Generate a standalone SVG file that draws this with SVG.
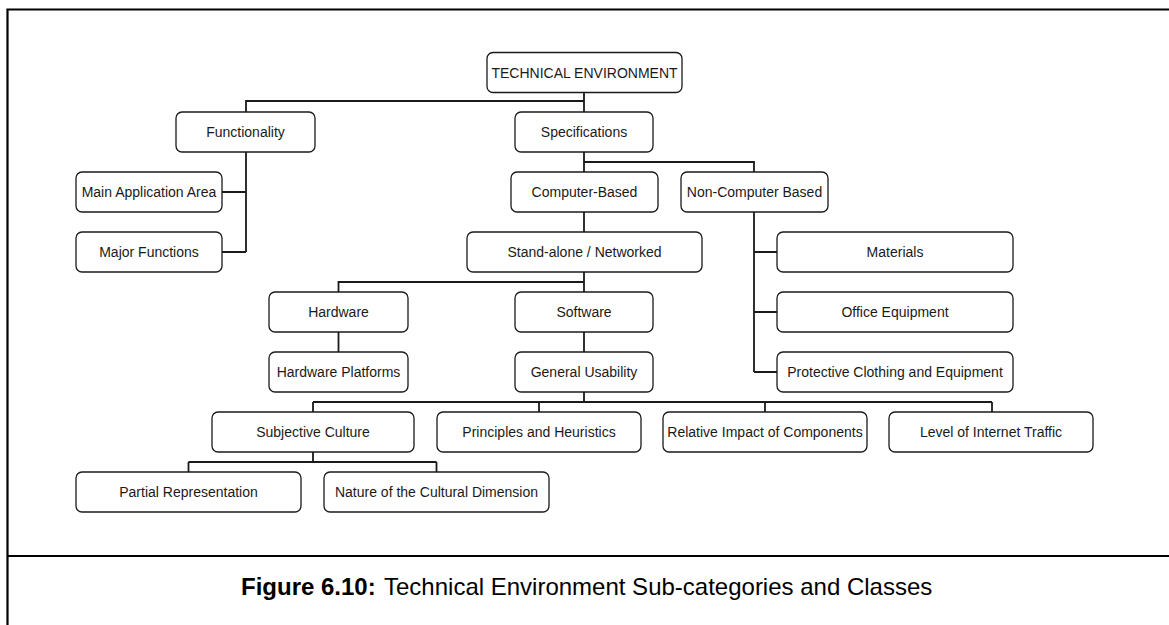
<svg xmlns="http://www.w3.org/2000/svg" width="1169" height="625" viewBox="0 0 1169 625">
<style>
.node rect{fill:#fff;stroke:#1a1a1a;stroke-width:1.3}
.node text{font-family:"Liberation Sans",Arial,sans-serif;font-size:14px;fill:#1a1a1a;text-anchor:middle}
.conn path{fill:none;stroke:#1a1a1a;stroke-width:1.8}
.frame{fill:none;stroke:#000;stroke-width:2.2}
.caption{font-family:"Liberation Sans",Arial,sans-serif;font-size:24px;fill:#000}
</style>
<rect width="1169" height="625" fill="#fff"/>
<g id="frame">
<path class="frame" d="M7.5,625 V9.5 H1169"/>
<path class="frame" d="M7.5,556 H1169"/>
</g>
<g id="connectors" class="conn">
<path d="M584,92 V112 M584,101 H246 V112"/>
<path d="M246,152 V252 M246,192 H222 M246,252 H222"/>
<path d="M584,152 V172 M584,162 H754 V172"/>
<path d="M584,212 V232"/>
<path d="M754,212 V372 M754,252 H777 M754,312 H777 M754,372 H777"/>
<path d="M584,272 V292 M584,282 H338.5 V292"/>
<path d="M338.5,332 V352"/>
<path d="M584,332 V352"/>
<path d="M584,392 V402 M313,402 H992 M313,402 V412 M539,402 V412 M765,402 V412 M992,402 V412"/>
<path d="M313,452 V462 M188.5,462 H436.5 M188.5,462 V472 M436.5,462 V472"/>
</g>
<g id="n-technical" class="node"><rect x="487" y="52.5" width="195" height="40" rx="6"/><text x="584.5" y="77.5">TECHNICAL ENVIRONMENT</text></g>
<g id="n-functionality" class="node"><rect x="176" y="112" width="139" height="40" rx="6"/><text x="245.5" y="137">Functionality</text></g>
<g id="n-specifications" class="node"><rect x="515" y="112" width="138" height="40" rx="6"/><text x="584" y="137">Specifications</text></g>
<g id="n-mainapp" class="node"><rect x="76" y="172" width="146" height="40" rx="6"/><text x="149" y="197">Main Application Area</text></g>
<g id="n-majorfn" class="node"><rect x="76" y="232" width="146" height="40" rx="6"/><text x="149" y="257">Major Functions</text></g>
<g id="n-computer" class="node"><rect x="511" y="172" width="147" height="40" rx="6"/><text x="584.5" y="197">Computer-Based</text></g>
<g id="n-noncomputer" class="node"><rect x="681" y="172" width="147" height="40" rx="6"/><text x="754.5" y="197">Non-Computer Based</text></g>
<g id="n-standalone" class="node"><rect x="467" y="232" width="235" height="40" rx="6"/><text x="584.5" y="257">Stand-alone / Networked</text></g>
<g id="n-materials" class="node"><rect x="777" y="232" width="236" height="40" rx="6"/><text x="895" y="257">Materials</text></g>
<g id="n-office" class="node"><rect x="777" y="292" width="236" height="40" rx="6"/><text x="895" y="317">Office Equipment</text></g>
<g id="n-protective" class="node"><rect x="777" y="352" width="236" height="40" rx="6"/><text x="895" y="377">Protective Clothing and Equipment</text></g>
<g id="n-hardware" class="node"><rect x="269" y="292" width="139" height="40" rx="6"/><text x="338.5" y="317">Hardware</text></g>
<g id="n-software" class="node"><rect x="515" y="292" width="138" height="40" rx="6"/><text x="584" y="317">Software</text></g>
<g id="n-hwplatforms" class="node"><rect x="269" y="352" width="139" height="40" rx="6"/><text x="338.5" y="377">Hardware Platforms</text></g>
<g id="n-genusability" class="node"><rect x="515" y="352" width="138" height="40" rx="6"/><text x="584" y="377">General Usability</text></g>
<g id="n-subjective" class="node"><rect x="212" y="412" width="202" height="40" rx="6"/><text x="313" y="437">Subjective Culture</text></g>
<g id="n-principles" class="node"><rect x="437" y="412" width="204" height="40" rx="6"/><text x="539" y="437">Principles and Heuristics</text></g>
<g id="n-relative" class="node"><rect x="663" y="412" width="204" height="40" rx="6"/><text x="765" y="437">Relative Impact of Components</text></g>
<g id="n-level" class="node"><rect x="889" y="412" width="204" height="40" rx="6"/><text x="991" y="437">Level of Internet Traffic</text></g>
<g id="n-partial" class="node"><rect x="76" y="472" width="225" height="40" rx="6"/><text x="188.5" y="497">Partial Representation</text></g>
<g id="n-nature" class="node"><rect x="324" y="472" width="225" height="40" rx="6"/><text x="436.5" y="497">Nature of the Cultural Dimension</text></g>
<text class="caption" x="241" y="595"><tspan font-weight="bold">Figure 6.10:</tspan><tspan x="384">Technical Environment Sub-categories and Classes</tspan></text>
</svg>
